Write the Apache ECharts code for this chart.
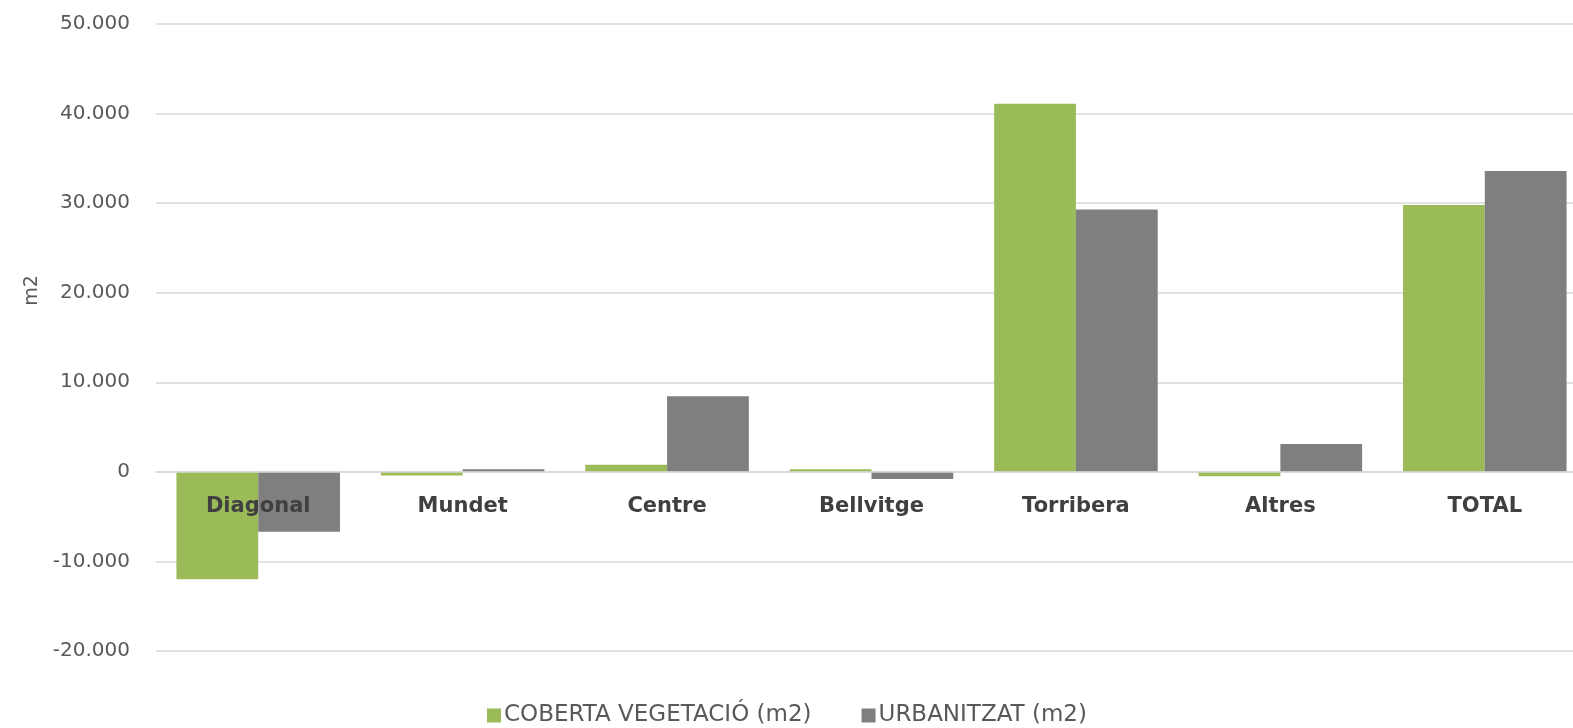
<!DOCTYPE html>
<html>
<head>
<meta charset="utf-8">
<script src="https://cdn.jsdelivr.net/npm/echarts@6/dist/echarts.min.js"></script>
<style>
  html, body { margin: 0; padding: 0; background: #fff; }
  #chart { width: 1573px; height: 728px; }
</style>
</head>
<body>
<div id="chart"></div>
<script>
// === Dades ===
const categories = ['Diagonal', 'Mundet', 'Centre', 'Bellvitge', 'Torribera', 'Altres', 'TOTAL'];
const cobertaVegetacio = [-12000, -400, 800, 300, 41100, -500, 29800];
const urbanitzat = [-6700, 300, 8450, -800, 29300, 3100, 33600];
const yTicks = { min: -20000, max: 50000, interval: 10000 };

// format amb punt de milers
function formatMilers(v) {
    const s = Math.abs(v).toString().replace(/\B(?=(\d{3})+(?!\d))/g, '.');
    return (v < 0 ? '-' : '') + s;
}

const gridTop = 24, gridBottom = 77, chartH = 728;
const plotH = chartH - gridTop - gridBottom;
// l'eix de categories es posa a l'altura del zero
const zeroOffset = -plotH * (0 - yTicks.min) / (yTicks.max - yTicks.min);

const chart = echarts.init(document.getElementById('chart'));
const option = {
    animation: false,
    textStyle: { fontFamily: 'DejaVu Sans' },
    grid: { left: 156, width: 1431, top: gridTop, bottom: gridBottom, containLabel: false, outerBoundsMode: 'none' },
    legend: {
        top: 699,
        left: 482,
        itemWidth: 14,
        itemHeight: 14,
        itemGap: 50,
        icon: 'rect',
        textStyle: { color: '#595959', fontSize: 23, padding: [0, 0, 0, -2] },
        data: ['COBERTA VEGETACIÓ (m2)', 'URBANITZAT (m2)']
    },
    xAxis: {
        type: 'category',
        data: categories,
        offset: zeroOffset,
        axisLine: { onZero: false, lineStyle: { color: '#d9d9d9', width: 1.5 } },
        axisTick: { show: false },
        axisLabel: { color: '#404040', fontWeight: 'bold', fontSize: 21, margin: 24 },
        z: 10
    },
    yAxis: {
        type: 'value',
        min: yTicks.min,
        max: yTicks.max,
        interval: yTicks.interval,
        name: 'm2',
        nameLocation: 'middle',
        nameGap: 112,
        nameRotate: 90,
        nameTextStyle: { color: '#595959', fontSize: 19, padding: [0, 0, 0, 94] },
        axisLine: { show: false },
        axisTick: { show: false },
        axisLabel: { color: '#595959', fontSize: 20, margin: 26, formatter: formatMilers },
        splitLine: { lineStyle: { color: '#d9d9d9', width: 1.5 } }
    },
    series: [
        {
            name: 'COBERTA VEGETACIÓ (m2)',
            type: 'bar',
            data: cobertaVegetacio,
            barGap: '0%',
            barCategoryGap: '20%',
            itemStyle: { color: '#9bbb59' }
        },
        {
            name: 'URBANITZAT (m2)',
            type: 'bar',
            data: urbanitzat,
            barGap: '0%',
            barCategoryGap: '20%',
            itemStyle: { color: '#7f7f7f' }
        }
    ]
};
chart.setOption(option);
</script>
</body>
</html>
